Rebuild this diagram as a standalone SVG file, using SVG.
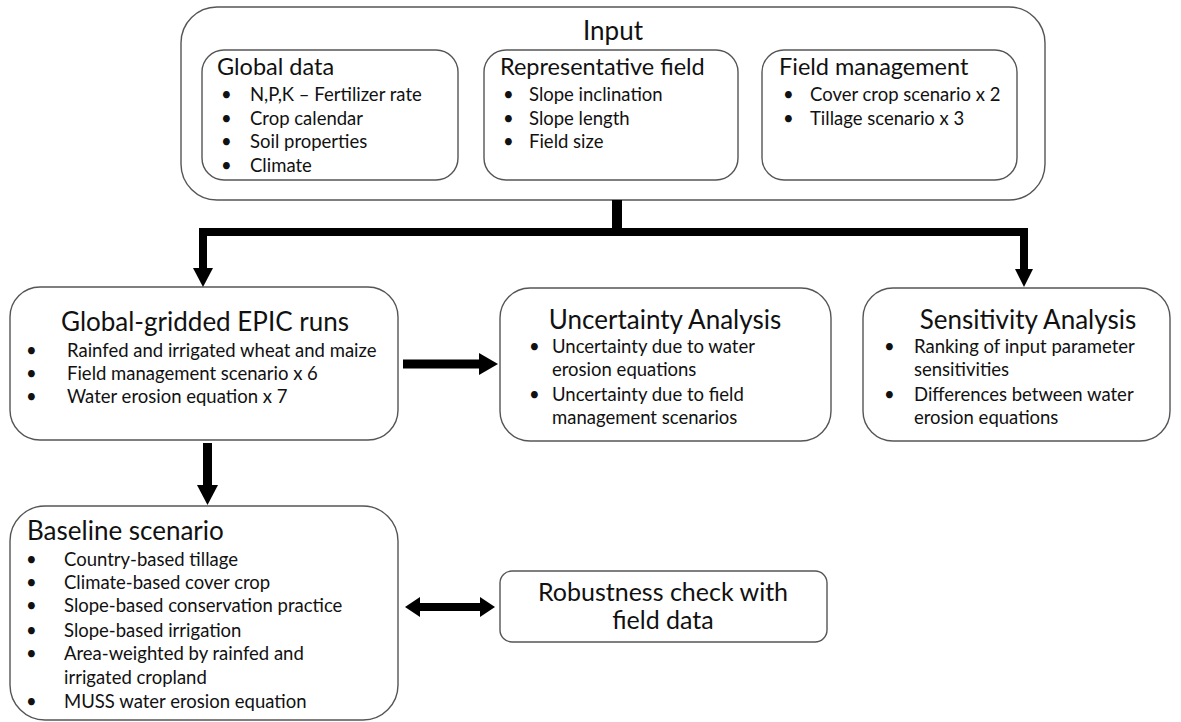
<svg xmlns="http://www.w3.org/2000/svg" width="1181" height="722" viewBox="0 0 1181 722">
<style>
.box{fill:#fff;stroke:#555;stroke-width:1.4}
text{font-family:Lato,"Open Sans","Liberation Sans",sans-serif;fill:#111}
.t1{font-size:26px}
.t3{font-size:25px}
.t2{font-size:23.5px}
.b{font-size:18.5px}
.mid{text-anchor:middle}
.conn{fill:none;stroke:#000;stroke-linejoin:miter}
.head{fill:#000}
</style>
<rect width="1181" height="722" fill="#fff"/>
<g id="input">
<rect class="box" x="181" y="7" width="864" height="193" rx="36"/>
<text class="t1 mid" x="613" y="40">Input</text>
</g>
<g id="global-data">
<rect class="box" x="202" y="50" width="256" height="130" rx="22"/>
<text class="t2" x="217" y="75">Global data</text>
<text class="b" x="221" y="101">•</text><text class="b" x="250" y="101">N,P,K – Fertilizer rate</text>
<text class="b" x="221" y="125">•</text><text class="b" x="250" y="125">Crop calendar</text>
<text class="b" x="221" y="148">•</text><text class="b" x="250" y="148">Soil properties</text>
<text class="b" x="221" y="172">•</text><text class="b" x="250" y="172">Climate</text>
</g>
<g id="representative-field">
<rect class="box" x="484" y="50" width="254" height="130" rx="22"/>
<text class="t2" x="500" y="75">Representative field</text>
<text class="b" x="503" y="101">•</text><text class="b" x="529" y="101">Slope inclination</text>
<text class="b" x="503" y="125">•</text><text class="b" x="529" y="125">Slope length</text>
<text class="b" x="503" y="148">•</text><text class="b" x="529" y="148">Field size</text>
</g>
<g id="field-management">
<rect class="box" x="762" y="50" width="255" height="130" rx="22"/>
<text class="t2" x="779" y="75">Field management</text>
<text class="b" x="783" y="101">•</text><text class="b" x="810" y="101">Cover crop scenario x 2</text>
<text class="b" x="783" y="125">•</text><text class="b" x="810" y="125">Tillage scenario x 3</text>
</g>
<g id="epic-runs">
<rect class="box" x="10" y="287" width="388" height="153" rx="30"/>
<text class="t1 mid" x="205" y="331">Global-gridded EPIC runs</text>
<text class="b" x="26" y="357">•</text><text class="b" x="67" y="357">Rainfed and irrigated wheat and maize</text>
<text class="b" x="26" y="380">•</text><text class="b" x="67" y="380">Field management scenario x 6</text>
<text class="b" x="26" y="403">•</text><text class="b" x="67" y="403">Water erosion equation x 7</text>
</g>
<g id="uncertainty">
<rect class="box" x="500" y="288" width="331" height="153" rx="30"/>
<text class="t1 mid" x="665" y="329">Uncertainty Analysis</text>
<text class="b" x="529" y="353">•</text><text class="b" x="552" y="353">Uncertainty due to water</text>
<text class="b" x="552" y="376">erosion equations</text>
<text class="b" x="529" y="401">•</text><text class="b" x="552" y="401">Uncertainty due to field</text>
<text class="b" x="552" y="424">management scenarios</text>
</g>
<g id="sensitivity">
<rect class="box" x="863" y="288" width="307" height="153" rx="30"/>
<text class="t1 mid" x="1028" y="329">Sensitivity Analysis</text>
<text class="b" x="884" y="353">•</text><text class="b" x="914" y="353">Ranking of input parameter</text>
<text class="b" x="914" y="376">sensitivities</text>
<text class="b" x="884" y="401">•</text><text class="b" x="914" y="401">Differences between water</text>
<text class="b" x="914" y="424">erosion equations</text>
</g>
<g id="baseline">
<rect class="box" x="10" y="506" width="388" height="214" rx="35"/>
<text class="t1" x="27" y="540">Baseline scenario</text>
<text class="b" x="26" y="566">•</text><text class="b" x="64" y="566">Country-based tillage</text>
<text class="b" x="26" y="589">•</text><text class="b" x="64" y="589">Climate-based cover crop</text>
<text class="b" x="26" y="612">•</text><text class="b" x="64" y="612">Slope-based conservation practice</text>
<text class="b" x="26" y="637">•</text><text class="b" x="64" y="637">Slope-based irrigation</text>
<text class="b" x="26" y="660">•</text><text class="b" x="64" y="660">Area-weighted by rainfed and</text>
<text class="b" x="64" y="684">irrigated cropland</text>
<text class="b" x="26" y="708">•</text><text class="b" x="64" y="708">MUSS water erosion equation</text>
</g>
<g id="robustness">
<rect class="box" x="500" y="571" width="327" height="71" rx="12"/>
<text class="t3 mid" x="663" y="601">Robustness check with</text>
<text class="t3 mid" x="663" y="629">field data</text>
</g>
<g id="connectors">
<path class="conn" stroke-width="10" d="M617,200 V232"/>
<path class="conn" stroke-width="8" d="M203,269 V232 H1024 V270"/>
<polygon class="head" points="193,268 213,268 203,287"/>
<polygon class="head" points="1015,269 1033,269 1024,287"/>
<path class="conn" stroke-width="9" d="M403,364 H481"/>
<polygon class="head" points="479,353 479,375 498,364"/>
<path class="conn" stroke-width="9" d="M207.5,443 V486"/>
<polygon class="head" points="197,485 218,485 207.5,505"/>
<path class="conn" stroke-width="8" d="M415,607 H485"/>
<polygon class="head" points="405,607 420,597 420,617"/>
<polygon class="head" points="495,607 480,597 480,617"/>
</g>
</svg>
